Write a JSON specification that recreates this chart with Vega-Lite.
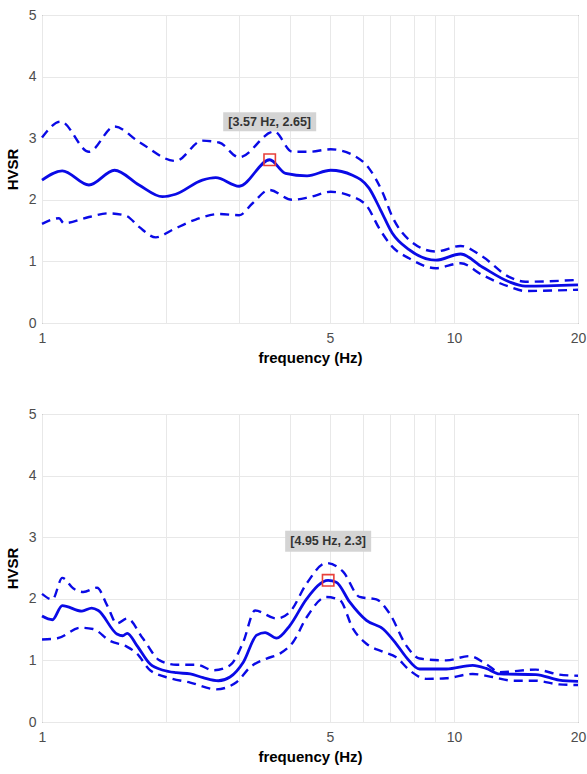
{
  "$schema": "https://vega.github.io/schema/vega-lite/v6.json",
  "background": "white",
  "padding": {"left": 4, "top": 7, "right": 5, "bottom": 5},
  "spacing": 40,
  "config": {
    "view": {"stroke": "#555555", "strokeWidth": 1},
    "font": "Liberation Sans",
    "axis": {
      "domain": false,
      "ticks": false,
      "grid": true,
      "gridColor": "#e8e8e8",
      "gridWidth": 1,
      "labelColor": "#4d4d4d",
      "labelFont": "Liberation Sans",
      "labelFontSize": 14,
      "titleFont": "Liberation Sans",
      "titleFontSize": 15,
      "titleFontWeight": "bold",
      "titleColor": "#000000"
    }
  },
  "datasets": {
    "curves": [
      {"p": "A", "s": "mean", "f": 1.00, "v": 2.32},
      {"p": "A", "s": "mean", "f": 1.12, "v": 2.47},
      {"p": "A", "s": "mean", "f": 1.30, "v": 2.24},
      {"p": "A", "s": "mean", "f": 1.50, "v": 2.48},
      {"p": "A", "s": "mean", "f": 1.72, "v": 2.24},
      {"p": "A", "s": "mean", "f": 1.96, "v": 2.05},
      {"p": "A", "s": "mean", "f": 2.11, "v": 2.09},
      {"p": "A", "s": "mean", "f": 2.45, "v": 2.32},
      {"p": "A", "s": "mean", "f": 2.64, "v": 2.36},
      {"p": "A", "s": "mean", "f": 3.01, "v": 2.22},
      {"p": "A", "s": "mean", "f": 3.57, "v": 2.65},
      {"p": "A", "s": "mean", "f": 3.90, "v": 2.43},
      {"p": "A", "s": "mean", "f": 4.40, "v": 2.39},
      {"p": "A", "s": "mean", "f": 5.02, "v": 2.48},
      {"p": "A", "s": "mean", "f": 5.67, "v": 2.40},
      {"p": "A", "s": "mean", "f": 6.22, "v": 2.19},
      {"p": "A", "s": "mean", "f": 6.64, "v": 1.83},
      {"p": "A", "s": "mean", "f": 7.08, "v": 1.46},
      {"p": "A", "s": "mean", "f": 7.78, "v": 1.19},
      {"p": "A", "s": "mean", "f": 9.03, "v": 1.02},
      {"p": "A", "s": "mean", "f": 10.38, "v": 1.12},
      {"p": "A", "s": "mean", "f": 11.71, "v": 0.91},
      {"p": "A", "s": "mean", "f": 13.6, "v": 0.67},
      {"p": "A", "s": "mean", "f": 14.9, "v": 0.60},
      {"p": "A", "s": "mean", "f": 20, "v": 0.62},

      {"p": "A", "s": "upper", "f": 1.00, "v": 3.01},
      {"p": "A", "s": "upper", "f": 1.11, "v": 3.27},
      {"p": "A", "s": "upper", "f": 1.30, "v": 2.78},
      {"p": "A", "s": "upper", "f": 1.50, "v": 3.19},
      {"p": "A", "s": "upper", "f": 1.72, "v": 2.94},
      {"p": "A", "s": "upper", "f": 2.11, "v": 2.63},
      {"p": "A", "s": "upper", "f": 2.45, "v": 2.96},
      {"p": "A", "s": "upper", "f": 2.69, "v": 2.93},
      {"p": "A", "s": "upper", "f": 3.01, "v": 2.69},
      {"p": "A", "s": "upper", "f": 3.66, "v": 3.11},
      {"p": "A", "s": "upper", "f": 4.05, "v": 2.78},
      {"p": "A", "s": "upper", "f": 4.45, "v": 2.78},
      {"p": "A", "s": "upper", "f": 5.02, "v": 2.82},
      {"p": "A", "s": "upper", "f": 5.67, "v": 2.73},
      {"p": "A", "s": "upper", "f": 6.22, "v": 2.51},
      {"p": "A", "s": "upper", "f": 6.70, "v": 2.13},
      {"p": "A", "s": "upper", "f": 7.08, "v": 1.73},
      {"p": "A", "s": "upper", "f": 7.78, "v": 1.35},
      {"p": "A", "s": "upper", "f": 9.03, "v": 1.16},
      {"p": "A", "s": "upper", "f": 10.38, "v": 1.25},
      {"p": "A", "s": "upper", "f": 11.71, "v": 1.08},
      {"p": "A", "s": "upper", "f": 13.6, "v": 0.75},
      {"p": "A", "s": "upper", "f": 14.9, "v": 0.67},
      {"p": "A", "s": "upper", "f": 20, "v": 0.70},

      {"p": "A", "s": "lower", "f": 1.00, "v": 1.61},
      {"p": "A", "s": "lower", "f": 1.10, "v": 1.70},
      {"p": "A", "s": "lower", "f": 1.13, "v": 1.62},
      {"p": "A", "s": "lower", "f": 1.30, "v": 1.72},
      {"p": "A", "s": "lower", "f": 1.45, "v": 1.78},
      {"p": "A", "s": "lower", "f": 1.60, "v": 1.74},
      {"p": "A", "s": "lower", "f": 1.72, "v": 1.56},
      {"p": "A", "s": "lower", "f": 1.89, "v": 1.39},
      {"p": "A", "s": "lower", "f": 2.07, "v": 1.51},
      {"p": "A", "s": "lower", "f": 2.36, "v": 1.68},
      {"p": "A", "s": "lower", "f": 2.69, "v": 1.77},
      {"p": "A", "s": "lower", "f": 3.01, "v": 1.75},
      {"p": "A", "s": "lower", "f": 3.24, "v": 1.94},
      {"p": "A", "s": "lower", "f": 3.56, "v": 2.16},
      {"p": "A", "s": "lower", "f": 4.05, "v": 2.00},
      {"p": "A", "s": "lower", "f": 4.45, "v": 2.04},
      {"p": "A", "s": "lower", "f": 5.02, "v": 2.13},
      {"p": "A", "s": "lower", "f": 5.67, "v": 2.05},
      {"p": "A", "s": "lower", "f": 6.16, "v": 1.89},
      {"p": "A", "s": "lower", "f": 6.58, "v": 1.54},
      {"p": "A", "s": "lower", "f": 7.08, "v": 1.24},
      {"p": "A", "s": "lower", "f": 7.78, "v": 1.05},
      {"p": "A", "s": "lower", "f": 9.03, "v": 0.89},
      {"p": "A", "s": "lower", "f": 10.38, "v": 0.97},
      {"p": "A", "s": "lower", "f": 11.71, "v": 0.78},
      {"p": "A", "s": "lower", "f": 13.6, "v": 0.59},
      {"p": "A", "s": "lower", "f": 14.9, "v": 0.52},
      {"p": "A", "s": "lower", "f": 20, "v": 0.54},

      {"p": "B", "s": "mean", "f": 1.00, "v": 1.72},
      {"p": "B", "s": "mean", "f": 1.06, "v": 1.66},
      {"p": "B", "s": "mean", "f": 1.12, "v": 1.89},
      {"p": "B", "s": "mean", "f": 1.25, "v": 1.80},
      {"p": "B", "s": "mean", "f": 1.32, "v": 1.85},
      {"p": "B", "s": "mean", "f": 1.37, "v": 1.81},
      {"p": "B", "s": "mean", "f": 1.52, "v": 1.43},
      {"p": "B", "s": "mean", "f": 1.57, "v": 1.40},
      {"p": "B", "s": "mean", "f": 1.61, "v": 1.44},
      {"p": "B", "s": "mean", "f": 1.70, "v": 1.24},
      {"p": "B", "s": "mean", "f": 1.83, "v": 0.94},
      {"p": "B", "s": "mean", "f": 1.97, "v": 0.84},
      {"p": "B", "s": "mean", "f": 2.12, "v": 0.80},
      {"p": "B", "s": "mean", "f": 2.29, "v": 0.78},
      {"p": "B", "s": "mean", "f": 2.46, "v": 0.72},
      {"p": "B", "s": "mean", "f": 2.68, "v": 0.67},
      {"p": "B", "s": "mean", "f": 2.86, "v": 0.73},
      {"p": "B", "s": "mean", "f": 3.08, "v": 0.97},
      {"p": "B", "s": "mean", "f": 3.32, "v": 1.41},
      {"p": "B", "s": "mean", "f": 3.48, "v": 1.45},
      {"p": "B", "s": "mean", "f": 3.71, "v": 1.36},
      {"p": "B", "s": "mean", "f": 4.00, "v": 1.57},
      {"p": "B", "s": "mean", "f": 4.39, "v": 2.00},
      {"p": "B", "s": "mean", "f": 4.95, "v": 2.30},
      {"p": "B", "s": "mean", "f": 5.18, "v": 2.27},
      {"p": "B", "s": "mean", "f": 5.58, "v": 1.95},
      {"p": "B", "s": "mean", "f": 6.13, "v": 1.65},
      {"p": "B", "s": "mean", "f": 6.73, "v": 1.51},
      {"p": "B", "s": "mean", "f": 7.24, "v": 1.27},
      {"p": "B", "s": "mean", "f": 7.66, "v": 1.05},
      {"p": "B", "s": "mean", "f": 8.25, "v": 0.86},
      {"p": "B", "s": "mean", "f": 9.58, "v": 0.86},
      {"p": "B", "s": "mean", "f": 11.1, "v": 0.92},
      {"p": "B", "s": "mean", "f": 11.97, "v": 0.87},
      {"p": "B", "s": "mean", "f": 12.9, "v": 0.78},
      {"p": "B", "s": "mean", "f": 15.8, "v": 0.77},
      {"p": "B", "s": "mean", "f": 18.0, "v": 0.68},
      {"p": "B", "s": "mean", "f": 20, "v": 0.66},

      {"p": "B", "s": "upper", "f": 1.00, "v": 2.08},
      {"p": "B", "s": "upper", "f": 1.06, "v": 1.99},
      {"p": "B", "s": "upper", "f": 1.12, "v": 2.34},
      {"p": "B", "s": "upper", "f": 1.19, "v": 2.17},
      {"p": "B", "s": "upper", "f": 1.26, "v": 2.11},
      {"p": "B", "s": "upper", "f": 1.36, "v": 2.18},
      {"p": "B", "s": "upper", "f": 1.44, "v": 1.89},
      {"p": "B", "s": "upper", "f": 1.52, "v": 1.60},
      {"p": "B", "s": "upper", "f": 1.61, "v": 1.68},
      {"p": "B", "s": "upper", "f": 1.76, "v": 1.35},
      {"p": "B", "s": "upper", "f": 1.93, "v": 1.00},
      {"p": "B", "s": "upper", "f": 2.12, "v": 0.93},
      {"p": "B", "s": "upper", "f": 2.37, "v": 0.93},
      {"p": "B", "s": "upper", "f": 2.61, "v": 0.84},
      {"p": "B", "s": "upper", "f": 2.86, "v": 0.92},
      {"p": "B", "s": "upper", "f": 3.08, "v": 1.30},
      {"p": "B", "s": "upper", "f": 3.29, "v": 1.81},
      {"p": "B", "s": "upper", "f": 3.71, "v": 1.68},
      {"p": "B", "s": "upper", "f": 4.00, "v": 1.79},
      {"p": "B", "s": "upper", "f": 4.39, "v": 2.25},
      {"p": "B", "s": "upper", "f": 4.90, "v": 2.58},
      {"p": "B", "s": "upper", "f": 5.38, "v": 2.44},
      {"p": "B", "s": "upper", "f": 5.90, "v": 2.03},
      {"p": "B", "s": "upper", "f": 6.48, "v": 1.99},
      {"p": "B", "s": "upper", "f": 6.98, "v": 1.76},
      {"p": "B", "s": "upper", "f": 7.66, "v": 1.24},
      {"p": "B", "s": "upper", "f": 8.25, "v": 1.03},
      {"p": "B", "s": "upper", "f": 9.58, "v": 1.00},
      {"p": "B", "s": "upper", "f": 10.9, "v": 1.07},
      {"p": "B", "s": "upper", "f": 11.97, "v": 0.94},
      {"p": "B", "s": "upper", "f": 12.9, "v": 0.81},
      {"p": "B", "s": "upper", "f": 15.8, "v": 0.85},
      {"p": "B", "s": "upper", "f": 18.0, "v": 0.77},
      {"p": "B", "s": "upper", "f": 20, "v": 0.75},

      {"p": "B", "s": "lower", "f": 1.00, "v": 1.34},
      {"p": "B", "s": "lower", "f": 1.09, "v": 1.36},
      {"p": "B", "s": "lower", "f": 1.24, "v": 1.53},
      {"p": "B", "s": "lower", "f": 1.33, "v": 1.51},
      {"p": "B", "s": "lower", "f": 1.46, "v": 1.32},
      {"p": "B", "s": "lower", "f": 1.61, "v": 1.22},
      {"p": "B", "s": "lower", "f": 1.70, "v": 1.11},
      {"p": "B", "s": "lower", "f": 1.83, "v": 0.84},
      {"p": "B", "s": "lower", "f": 2.05, "v": 0.71},
      {"p": "B", "s": "lower", "f": 2.29, "v": 0.64},
      {"p": "B", "s": "lower", "f": 2.65, "v": 0.53},
      {"p": "B", "s": "lower", "f": 2.97, "v": 0.65},
      {"p": "B", "s": "lower", "f": 3.20, "v": 0.89},
      {"p": "B", "s": "lower", "f": 3.51, "v": 1.03},
      {"p": "B", "s": "lower", "f": 3.78, "v": 1.11},
      {"p": "B", "s": "lower", "f": 4.07, "v": 1.30},
      {"p": "B", "s": "lower", "f": 4.39, "v": 1.70},
      {"p": "B", "s": "lower", "f": 4.90, "v": 2.03},
      {"p": "B", "s": "lower", "f": 5.28, "v": 1.98},
      {"p": "B", "s": "lower", "f": 5.69, "v": 1.51},
      {"p": "B", "s": "lower", "f": 6.13, "v": 1.27},
      {"p": "B", "s": "lower", "f": 6.73, "v": 1.14},
      {"p": "B", "s": "lower", "f": 7.24, "v": 1.05},
      {"p": "B", "s": "lower", "f": 7.80, "v": 0.84},
      {"p": "B", "s": "lower", "f": 8.56, "v": 0.70},
      {"p": "B", "s": "lower", "f": 9.58, "v": 0.71},
      {"p": "B", "s": "lower", "f": 11.1, "v": 0.78},
      {"p": "B", "s": "lower", "f": 12.4, "v": 0.73},
      {"p": "B", "s": "lower", "f": 13.9, "v": 0.67},
      {"p": "B", "s": "lower", "f": 15.8, "v": 0.67},
      {"p": "B", "s": "lower", "f": 18.0, "v": 0.61},
      {"p": "B", "s": "lower", "f": 20, "v": 0.60}
    ],
    "peaks": [
      {"p": "A", "f": 3.57, "v": 2.65, "label": "[3.57 Hz, 2.65]"},
      {"p": "B", "f": 4.95, "v": 2.3, "label": "[4.95 Hz, 2.3]"}
    ]
  },
  "vconcat": [
    {
      "width": 536,
      "height": 308,
      "encoding": {
        "x": {"field": "f", "type": "quantitative",
          "scale": {"type": "log", "domain": [1, 20], "nice": false},
          "axis": {"title": "frequency (Hz)", "values": [1, 2, 3, 4, 5, 6, 7, 8, 9, 10, 20],
            "labelExpr": "indexof([1, 5, 10, 20], datum.value) >= 0 ? datum.label : ''",
            "labelPadding": 8, "titlePadding": 5, "labelFlush": false}},
        "y": {"field": "v", "type": "quantitative",
          "scale": {"domain": [0, 5], "nice": false},
          "axis": {"title": "HVSR", "values": [0, 1, 2, 3, 4, 5], "labelPadding": 6, "titlePadding": 8}}
      },
      "layer": [
        {
          "data": {"name": "curves"},
          "transform": [{"filter": "datum.p === 'A' && datum.s !== 'mean'"}],
          "mark": {"type": "line", "color": "#0a0ae6", "strokeWidth": 2.4, "strokeDash": [9, 6], "interpolate": "monotone"},
          "encoding": {"detail": {"field": "s"}}
        },
        {
          "data": {"name": "curves"},
          "transform": [{"filter": "datum.p === 'A' && datum.s === 'mean'"}],
          "mark": {"type": "line", "color": "#0a0ae6", "strokeWidth": 2.8, "interpolate": "monotone"}
        },
        {
          "data": {"name": "peaks"},
          "transform": [{"filter": "datum.p === 'A'"}],
          "mark": {"type": "point", "shape": "M-1,-0.204H1V0.204H-1Z", "filled": true, "color": "#d4d4d4", "opacity": 1, "size": 8649, "yOffset": -38}
        },
        {
          "data": {"name": "peaks"},
          "transform": [{"filter": "datum.p === 'A'"}],
          "mark": {"type": "text", "font": "Liberation Sans", "fontWeight": "bold", "fontSize": 12.5, "color": "#333333", "yOffset": -38, "baseline": "middle", "align": "center"},
          "encoding": {"text": {"field": "label"}}
        },
        {
          "data": {"name": "peaks"},
          "transform": [{"filter": "datum.p === 'A'"}],
          "mark": {"type": "point", "shape": "square", "filled": false, "color": "#e8403a", "opacity": 1, "size": 130, "strokeWidth": 1.6}
        }
      ]
    },
    {
      "width": 536,
      "height": 308,
      "encoding": {
        "x": {"field": "f", "type": "quantitative",
          "scale": {"type": "log", "domain": [1, 20], "nice": false},
          "axis": {"title": "frequency (Hz)", "values": [1, 2, 3, 4, 5, 6, 7, 8, 9, 10, 20],
            "labelExpr": "indexof([1, 5, 10, 20], datum.value) >= 0 ? datum.label : ''",
            "labelPadding": 8, "titlePadding": 5, "labelFlush": false}},
        "y": {"field": "v", "type": "quantitative",
          "scale": {"domain": [0, 5], "nice": false},
          "axis": {"title": "HVSR", "values": [0, 1, 2, 3, 4, 5], "labelPadding": 6, "titlePadding": 8}}
      },
      "layer": [
        {
          "data": {"name": "curves"},
          "transform": [{"filter": "datum.p === 'B' && datum.s !== 'mean'"}],
          "mark": {"type": "line", "color": "#0a0ae6", "strokeWidth": 2.4, "strokeDash": [9, 6], "interpolate": "monotone"},
          "encoding": {"detail": {"field": "s"}}
        },
        {
          "data": {"name": "curves"},
          "transform": [{"filter": "datum.p === 'B' && datum.s === 'mean'"}],
          "mark": {"type": "line", "color": "#0a0ae6", "strokeWidth": 2.8, "interpolate": "monotone"}
        },
        {
          "data": {"name": "peaks"},
          "transform": [{"filter": "datum.p === 'B'"}],
          "mark": {"type": "point", "shape": "M-1,-0.244H1V0.244H-1Z", "filled": true, "color": "#d4d4d4", "opacity": 1, "size": 7396, "yOffset": -39}
        },
        {
          "data": {"name": "peaks"},
          "transform": [{"filter": "datum.p === 'B'"}],
          "mark": {"type": "text", "font": "Liberation Sans", "fontWeight": "bold", "fontSize": 12.5, "color": "#333333", "yOffset": -39, "baseline": "middle", "align": "center"},
          "encoding": {"text": {"field": "label"}}
        },
        {
          "data": {"name": "peaks"},
          "transform": [{"filter": "datum.p === 'B'"}],
          "mark": {"type": "point", "shape": "square", "filled": false, "color": "#e8403a", "opacity": 1, "size": 130, "strokeWidth": 1.6}
        }
      ]
    }
  ]
}
